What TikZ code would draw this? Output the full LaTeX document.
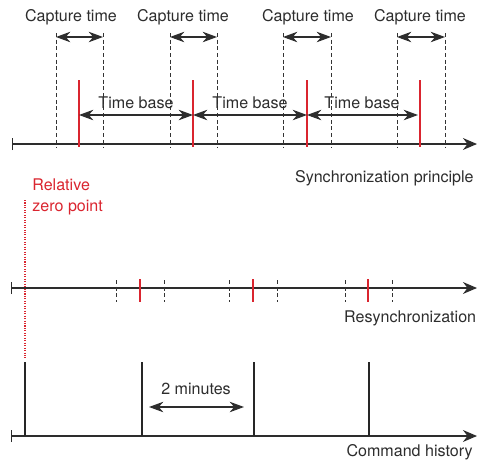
\documentclass[tikz,border=0pt]{standalone}
\usepackage{fontspec}
\setmainfont{TeX Gyre Heros}
\usetikzlibrary{arrows.meta, positioning, calc}
\definecolor{syncRed}{RGB}{218, 37, 47}
\definecolor{textGray}{RGB}{45, 45, 45}

\begin{document}
\begin{tikzpicture}[
        x=0.02cm, y=-0.02cm,
        font=\fontsize{9.15}{11.9}\selectfont, text=textGray,
        axis/.style={line width=0.7pt, textGray, {Bar[width=7pt]}-{Stealth[length=8pt, width=6.8pt]}},
        guide/.style={black!80, line width=0.45pt, dash pattern=on 2.2pt off 1.6pt},
        syncline/.style={syncRed, line width=0.65pt},
        cmdbar/.style={black!85, line width=1.7pt},
        span/.style={textGray, line width=0.6pt, {Stealth[length=8.2pt, width=6pt]}-{Stealth[length=8.2pt, width=6pt]}},
        lbl/.style={inner sep=0pt, anchor=base}
    ]
        \useasboundingbox (0,0) rectangle (478,461);

        % Synchronization principle
        \coordinate (sync0) at (12,144);
        \coordinate (sync1) at (477,144);
        \draw[axis] (sync0) -- (sync1);
        \foreach \l/\r/\c [count=\i] in {56/103/71, 170/217/183, 283/331/308, 397/445/420} {
            \coordinate (capL\i) at (\l,33);
            \coordinate (capR\i) at (\r,33);
            \draw[guide] (capL\i) -- (\l,147);
            \draw[guide] (capR\i) -- (\r,147);
            \draw[span] (\l,37) -- (\r,37);
            \node[lbl] (cap\i) at (\c,21) {Capture time};
        }
        \foreach \x [count=\i] in {79, 193, 307, 420} {
            \coordinate (red\i) at (\x,80);
            \draw[syncline] (red\i) -- (\x,147);
        }
        \coordinate (base4) at (418,115);
        \draw[span] (red1 |- base4) -- (red2 |- base4);
        \draw[span] (red2 |- base4) -- (red3 |- base4);
        \draw[span] (red3 |- base4) -- (base4);
        \node[lbl] (tb1) at (136,108) {Time base};
        \node[lbl] (tb2) at (250,108) {Time base};
        \node[lbl] (tb3) at (362,108) {Time base};
        \node[lbl, anchor=base east] (syncTitle) at (474,182) {Synchronization principle};

        % Resynchronization
        \coordinate (zeroTop) at (25,200);
        \coordinate (zeroBot) at (25,358);
        \draw[syncRed, line width=0.6pt, dash pattern=on 0.6pt off 0.8pt] (zeroTop) -- (zeroBot);
        \node[lbl, anchor=base west, text=syncRed, align=left] (zeroLbl) at (32,211.5) {Relative\\zero point};

        \coordinate (res0) at (11,288);
        \coordinate (res1) at (477,288);
        \draw[axis] (res0) -- (res1);
        \foreach \x in {116, 164, 229, 277, 345, 392}
            \draw[guide] (\x,280) -- (\x,302);
        \foreach \x in {140, 253, 368}
            \draw[syncline, line width=0.8pt] (\x,279) -- (\x,302);
        \node[lbl, anchor=base east] (resTitle) at (476.5,322.5) {Resynchronization};

        % Command history
        \coordinate (cmd0) at (11,436);
        \coordinate (cmd1) at (477,436);
        \draw[axis] (cmd0) -- (cmd1);
        \foreach \x [count=\i] in {25, 142, 254, 369} {
            \coordinate (cmd\i top) at (\x,362);
            \draw[cmdbar] (cmd\i top) -- (\x,436);
        }
        \node[lbl] (twoMin) at (196,394) {2 minutes};
        \draw[span] (149,407) -- (244,407);
        \node[lbl, anchor=base east] (cmdTitle) at (473,456.5) {Command history};
    \end{tikzpicture}
\end{document}
